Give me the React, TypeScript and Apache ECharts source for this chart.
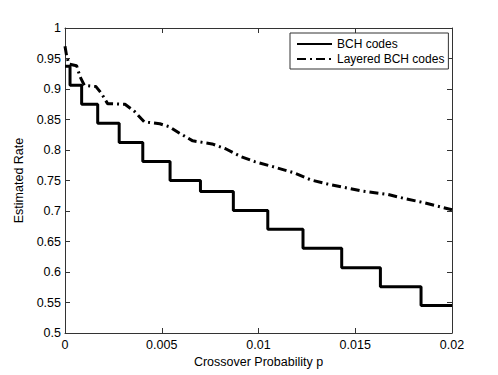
import React, { useEffect, useRef } from "react";
import * as echarts from "echarts";

const xTicks = ["0", "0.005", "0.01", "0.015", "0.02"];
const bchP = [0, 0.00026, 0.00086, 0.00169, 0.0028, 0.00402, 0.00543, 0.007, 0.0087, 0.01048, 0.0123, 0.0143, 0.0163, 0.0184, 0.02];
const bchR = [0.9375, 0.906, 0.875, 0.844, 0.8125, 0.781, 0.75, 0.732, 0.701, 0.67, 0.639, 0.607, 0.576, 0.545, 0.545];
const layP = [0, 0.00008, 0.0002, 0.0006, 0.00078, 0.001, 0.0016, 0.0019, 0.0022, 0.0031, 0.0036, 0.0041, 0.0049, 0.0054, 0.0059, 0.0066, 0.0076, 0.0083, 0.0091, 0.0098, 0.0106, 0.0118, 0.0127, 0.0136, 0.0153, 0.0167, 0.0176, 0.0185, 0.02];
const layR = [0.97, 0.955, 0.941, 0.938, 0.92, 0.906, 0.904, 0.892, 0.876, 0.875, 0.863, 0.846, 0.843, 0.838, 0.828, 0.815, 0.81, 0.802, 0.789, 0.781, 0.774, 0.763, 0.751, 0.744, 0.733, 0.727, 0.72, 0.714, 0.702];

const FONT = "'Liberation Sans', Arial, Helvetica, sans-serif";
const AX = "#333";

export default function App() {
  const ref = useRef<HTMLDivElement>(null);
  useEffect(() => {
    if (!ref.current) return;
    const chart = echarts.init(ref.current, undefined, { renderer: "svg" });
    const tickStyle = { show: true, inside: true, length: 5, lineStyle: { color: AX, width: 1 } };
    const axLine = { show: true, onZero: false, lineStyle: { color: AX, width: 1 } };
    chart.setOption({
      animation: false,
      backgroundColor: "#fff",
      textStyle: { fontFamily: FONT },
      grid: { left: 65, right: 46, top: 28, bottom: 42, containLabel: false },
      legend: {
        orient: "vertical",
        left: 290,
        top: 33,
        padding: [5, 4, 4, 6],
        itemGap: 3,
        itemWidth: 35,
        itemHeight: 12,
        borderColor: AX,
        borderWidth: 1,
        backgroundColor: "#fff",
        itemStyle: { opacity: 0 },
        lineStyle: { opacity: 1 },
        textStyle: { fontFamily: FONT, fontSize: 12, color: "#000" },
        data: ["BCH codes", "Layered BCH codes"],
      },
      xAxis: [
        {
          type: "value",
          min: 0,
          max: 0.02,
          interval: 0.005,
          position: "bottom",
          name: "Crossover Probability p",
          nameLocation: "middle",
          nameGap: 22,
          nameTextStyle: { fontFamily: FONT, fontSize: 12.5, color: "#000" },
          axisLine: axLine,
          axisTick: tickStyle,
          splitLine: { show: false },
          axisLabel: {
            fontFamily: FONT,
            fontSize: 12.5,
            color: "#000",
            margin: 5,
            formatter: (v: number) => xTicks[Math.round(v / 0.005)] ?? String(v),
          },
        },
        {
          type: "value",
          min: 0,
          max: 0.02,
          interval: 0.005,
          position: "top",
          axisLine: axLine,
          axisTick: tickStyle,
          splitLine: { show: false },
          axisLabel: { show: false },
        },
      ],
      yAxis: [
        {
          type: "value",
          min: 0.5,
          max: 1,
          interval: 0.05,
          position: "left",
          name: "Estimated Rate",
          nameLocation: "middle",
          nameGap: 35,
          nameTextStyle: { fontFamily: FONT, fontSize: 12.5, color: "#000" },
          axisLine: axLine,
          axisTick: tickStyle,
          splitLine: { show: false },
          axisLabel: {
            fontFamily: FONT,
            fontSize: 12.5,
            color: "#000",
            margin: 4,
            formatter: (v: number) => String(Math.round(v * 100) / 100),
          },
        },
        {
          type: "value",
          min: 0.5,
          max: 1,
          interval: 0.05,
          position: "right",
          axisLine: axLine,
          axisTick: tickStyle,
          splitLine: { show: false },
          axisLabel: { show: false },
        },
      ],
      series: [
        {
          name: "BCH codes",
          type: "line",
          step: "end",
          symbol: "none",
          clip: true,
          data: bchP.map((p, i) => [p, bchR[i]]),
          lineStyle: { color: "#000", width: 3, type: "solid" },
          itemStyle: { color: "#000" },
        },
        {
          name: "Layered BCH codes",
          type: "line",
          symbol: "none",
          clip: true,
          data: layP.map((p, i) => [p, layR[i]]),
          lineStyle: { color: "#000", width: 3, type: [9, 4, 2, 4] },
          itemStyle: { color: "#000" },
        },
      ],
    });
    return () => chart.dispose();
  }, []);
  return <div ref={ref} style={{ width: 498, height: 375, position: "absolute", left: 0, top: 0 }} />;
}
